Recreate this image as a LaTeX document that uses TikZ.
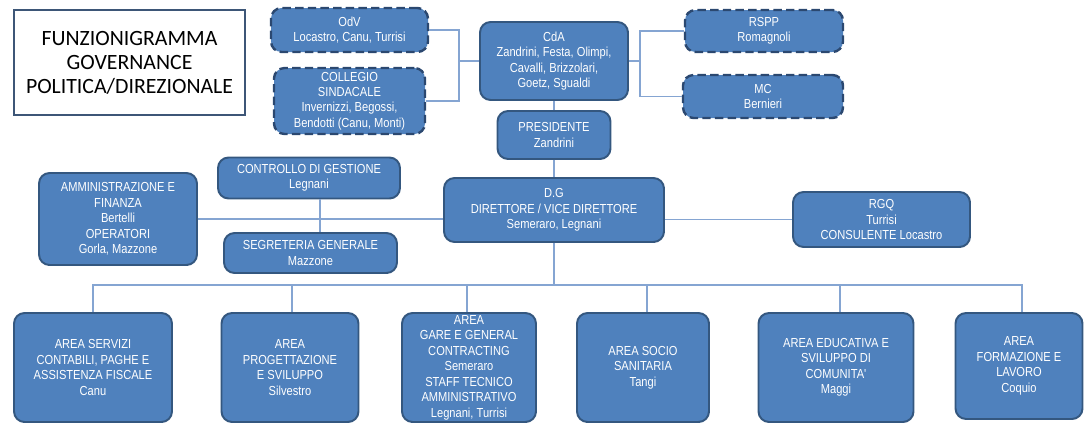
\documentclass[tikz,border=0pt]{standalone}
\usepackage{fontspec}
\usepackage{xcolor}
\setmainfont{Liberation Sans}
\newfontfamily\boxfont[FakeStretch=0.85]{Liberation Sans}
\newfontfamily\titlefont{Carlito}
\definecolor{boxfill}{HTML}{4F81BD}
\definecolor{boxline}{HTML}{34577F}
\definecolor{dashline}{HTML}{2B4870}
\definecolor{linkcol}{HTML}{85A5D2}
\definecolor{titleline}{HTML}{3D5677}

\begin{document}
\begin{tikzpicture}[x=0.025cm,y=-0.025cm,
    unit node/.style={rectangle,rounded corners=7.5pt,draw=boxline,line width=1.4pt,fill=boxfill,
        text=white,align=center,inner sep=1pt,
        font=\boxfont\fontsize{9.3}{11}\selectfont},
    ext node/.style={unit node,draw=dashline,line width=1.7pt,dash pattern=on 6pt off 3pt},
    link/.style={draw=linkcol,line width=0.9pt}]
    \useasboundingbox (0,0) rectangle (1091,423);
    % titolo
    \node[draw=titleline,line width=1.5pt,minimum width=231*0.025cm,minimum height=105*0.025cm,
        align=center,font=\titlefont\fontsize{15.5}{17}\selectfont] (title) at (129.5,62.5)
        {FUNZIONIGRAMMA\\GOVERNANCE\\POLITICA/DIREZIONALE};
    % organi di vertice
    \node[ext node,minimum width=157*0.025cm,minimum height=44*0.025cm] (odv) at (349.5,30)
        {OdV\\Locastro, Canu, Turrisi};
    \node[ext node,minimum width=151*0.025cm,minimum height=66*0.025cm] (coll) at (349.5,101)
        {COLLEGIO\\SINDACALE\\Invernizzi, Begossi,\\Bendotti (Canu, Monti)};
    \node[unit node,minimum width=148*0.025cm,minimum height=78*0.025cm] (cda) at (554,61)
        {CdA\\Zandrini, Festa, Olimpi,\\Cavalli, Brizzolari,\\Goetz, Sgualdi};
    \node[ext node,minimum width=158*0.025cm,minimum height=42*0.025cm] (rspp) at (764,31)
        {RSPP\\Romagnoli};
    \node[ext node,minimum width=160*0.025cm,minimum height=43*0.025cm] (mc) at (763,96.5)
        {MC\\Bernieri};
    \node[unit node,minimum width=113*0.025cm,minimum height=48*0.025cm] (pres) at (554,135)
        {PRESIDENTE\\Zandrini};
    % direzione
    \node[unit node,minimum width=220*0.025cm,minimum height=64*0.025cm] (dg) at (554,210)
        {D.G\\DIRETTORE / VICE DIRETTORE\\Semeraro, Legnani};
    \node[unit node,minimum width=177*0.025cm,minimum height=55*0.025cm] (rgq) at (881.5,219.5)
        {RGQ\\Turrisi\\CONSULENTE Locastro};
    \node[unit node,minimum width=158*0.025cm,minimum height=92*0.025cm] (amm) at (118,219)
        {AMMINISTRAZIONE E\\FINANZA\\Bertelli\\OPERATORI\\Gorla, Mazzone};
    \node[unit node,minimum width=182*0.025cm,minimum height=41*0.025cm] (cdg) at (309,178)
        {CONTROLLO DI GESTIONE\\Legnani};
    \node[unit node,minimum width=173*0.025cm,minimum height=40*0.025cm] (segr) at (310.5,253)
        {SEGRETERIA GENERALE\\Mazzone};
    % aree
    \node[unit node,minimum width=158*0.025cm,minimum height=109*0.025cm] (b1) at (93,367.5)
        {AREA SERVIZI\\CONTABILI, PAGHE E\\ASSISTENZA FISCALE\\Canu};
    \node[unit node,minimum width=137*0.025cm,minimum height=109*0.025cm] (b2) at (290,367.5)
        {AREA\\PROGETTAZIONE\\E SVILUPPO\\Silvestro};
    \node[unit node,minimum width=134*0.025cm,minimum height=109*0.025cm] (b3) at (469,367.5)
        {AREA\\GARE E GENERAL\\CONTRACTING\\Semeraro\\STAFF TECNICO\\AMMINISTRATIVO\\Legnani, Turrisi};
    \node[unit node,minimum width=132*0.025cm,minimum height=109*0.025cm] (b4) at (643,367.5)
        {AREA SOCIO\\SANITARIA\\Tangi};
    \node[unit node,minimum width=155*0.025cm,minimum height=109*0.025cm] (b5) at (836,367.5)
        {AREA EDUCATIVA E\\SVILUPPO DI\\COMUNITA'\\Maggi};
    \node[unit node,minimum width=127*0.025cm,minimum height=106*0.025cm] (b6) at (1019,366)
        {AREA\\FORMAZIONE E\\LAVORO\\Coquio};
    % collegamenti
    \coordinate (tl) at (459,61);
    \coordinate (tr) at (640,61);
    \coordinate (bus) at (554,285);
    \path[link]
        (odv.east) -| (tl)
        (coll.east) -| (tl)
        (tl) -- (cda.west)
        (cda.east) -- (tr)
        (tr) |- (rspp.west)
        (tr) |- (mc.west)
        (cda.south) -- (pres.north)
        (pres.south) -- (dg.north)
        (amm.east) -- (amm.east -| dg.west)
        (cdg.south -| 320,0) -- (segr.north -| 320,0)
        (dg.east |- rgq.west) -- (rgq.west)
        (dg.south) -- (bus);
    \foreach \b/\x in {b1/93,b2/292,b3/467,b4/647,b5/840,b6/1022}
        \draw[link] (\b.north -| \x,0) |- (bus);
\end{tikzpicture}
\end{document}
